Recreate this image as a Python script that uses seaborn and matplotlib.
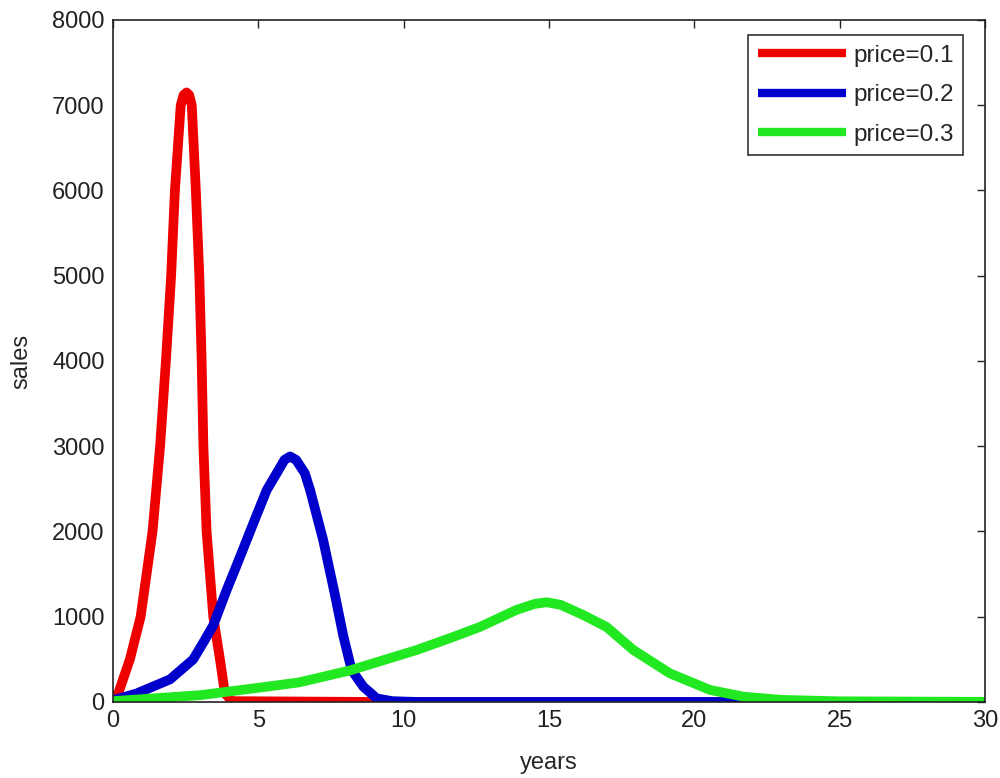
import numpy as np
import pandas as pd
import seaborn as sns
import matplotlib.pyplot as plt

# values (years, sales)
red_t = [0, 0.18, 0.58, 0.95, 1.36, 1.62, 1.82, 2.0, 2.13, 2.33, 2.43, 2.53, 2.62, 2.71, 2.85, 2.97, 3.05,
         3.11, 3.22, 3.45, 3.68, 3.85, 4.1, 9.2, 30]
red_s = [60, 100, 500, 1000, 2000, 3000, 4000, 5000, 6000, 7000, 7120, 7150, 7120, 7000, 6000, 5000, 4000,
         3000, 2000, 1000, 500, 100, 10, 0, 0]

blue_t = [0, 0.81, 1.96, 2.76, 3.11, 3.45, 3.91, 4.25, 4.6, 4.95, 5.29, 5.63, 5.9, 6.09, 6.3, 6.6, 6.78, 7.23,
          7.64, 7.92, 8.21, 8.61, 9.07, 9.6, 10.5, 21.7, 30]
blue_s = [20, 100, 265, 500, 700, 900, 1314, 1600, 1900, 2200, 2487, 2683, 2840, 2880, 2840, 2683, 2487, 1900,
          1250, 780, 375, 180, 43, 10, 0, 0, 0]

green_t = [0, 3.0, 5.3, 6.4, 8.15, 10.45, 11.6, 12.62, 13.88, 14.5, 14.92, 15.4, 16.18, 16.98, 17.9, 19.16,
           20.54, 21.7, 23, 25, 30]
green_s = [10, 80, 180, 230, 370, 610, 750, 880, 1080, 1150, 1170, 1140, 1020, 880, 610, 336,
           141, 62, 25, 8, 2]

labels = ['price=0.1', 'price=0.2', 'price=0.3']
colors = ['#ee0000', '#0000cc', '#22e822']

df = pd.concat([
    pd.DataFrame({'years': red_t, 'sales': red_s, 'price': labels[0]}),
    pd.DataFrame({'years': blue_t, 'sales': blue_s, 'price': labels[1]}),
    pd.DataFrame({'years': green_t, 'sales': green_s, 'price': labels[2]}),
])

sns.set_style('white')
plt.rcParams['font.family'] = ['Liberation Sans', 'DejaVu Sans']

fig = plt.figure(figsize=(10, 7.78), dpi=100)
ax = fig.add_axes([0.113, 0.0977, 0.872, 0.8766])

sns.lineplot(data=df, x='years', y='sales', hue='price', palette=dict(zip(labels, colors)),
             estimator=None, sort=False, linewidth=7, ax=ax)

ax.set_xlim(0, 30)
ax.set_ylim(0, 8000)
ax.set_xticks(range(0, 31, 5))
ax.set_yticks(range(0, 8001, 1000))
ax.tick_params(direction='in', length=6, width=1, top=True, right=True,
               labelsize=17, colors='#222222', pad=6)
for s in ax.spines.values():
    s.set_color('#222222')
    s.set_linewidth(1.2)
ax.set_xlabel('years', fontsize=17, labelpad=14)
ax.set_ylabel('sales', fontsize=17, labelpad=14)

leg = ax.legend(loc='upper right', bbox_to_anchor=(0.975, 0.978), borderaxespad=0,
                fontsize=17.5, handlelength=3.6, handletextpad=0.3, labelspacing=0.72,
                frameon=True, fancybox=False, edgecolor='black', borderpad=0.4)
leg.get_frame().set_linewidth(1.2)
for line in leg.get_lines():
    line.set_linewidth(6)
    line.set_solid_capstyle('butt')

fig.savefig('out.png', dpi=100)
